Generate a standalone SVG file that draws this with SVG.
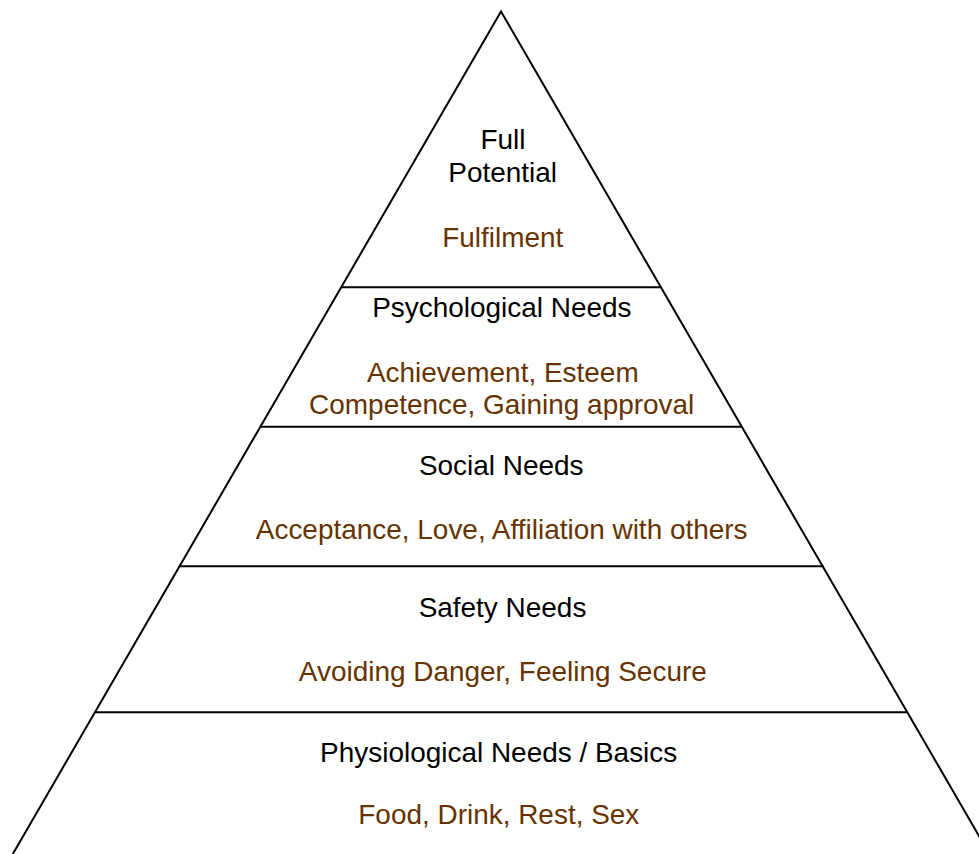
<svg xmlns="http://www.w3.org/2000/svg" width="979" height="854" viewBox="0 0 979 854">
<style>
.t{font-family:"Liberation Sans",Arial,sans-serif;font-size:27.95px;text-anchor:middle;fill:#000}
.s{fill:#663300}
.ln{stroke:#000;stroke-width:2;fill:none}
</style>
<rect width="979" height="854" fill="#fff"/>
<g id="connectors">
<path class="ln" d="M12.8 854 L501 11.5 L989.5 854" stroke-linejoin="miter"/>
<line class="ln" x1="341" y1="287.3" x2="661" y2="287.3"/>
<line class="ln" x1="260" y1="426.7" x2="742" y2="426.7"/>
<line class="ln" x1="179" y1="566.3" x2="823.5" y2="566.3"/>
<line class="ln" x1="95.5" y1="712.3" x2="907.5" y2="712.3"/>
</g>
<g id="level-full">
<text class="t" x="503" y="149.3">Full</text>
<text class="t" x="502.7" y="181.7">Potential</text>
<text class="t s" x="502.8" y="246.7">Fulfilment</text>
</g>
<g id="level-psychological">
<text class="t" x="501.8" y="316.7">Psychological Needs</text>
<text class="t s" x="502.8" y="382.3">Achievement, Esteem</text>
<text class="t s" x="501.7" y="414">Competence, Gaining approval</text>
</g>
<g id="level-social">
<text class="t" x="501.2" y="475">Social Needs</text>
<text class="t s" x="501.7" y="539">Acceptance, Love, Affiliation with others</text>
</g>
<g id="level-safety">
<text class="t" x="502.5" y="616.7">Safety Needs</text>
<text class="t s" x="502.8" y="680.7">Avoiding Danger, Feeling Secure</text>
</g>
<g id="level-physiological">
<text class="t" x="498.7" y="761.7">Physiological Needs / Basics</text>
<text class="t s" x="498.8" y="824.3">Food, Drink, Rest, Sex</text>
</g>
</svg>
